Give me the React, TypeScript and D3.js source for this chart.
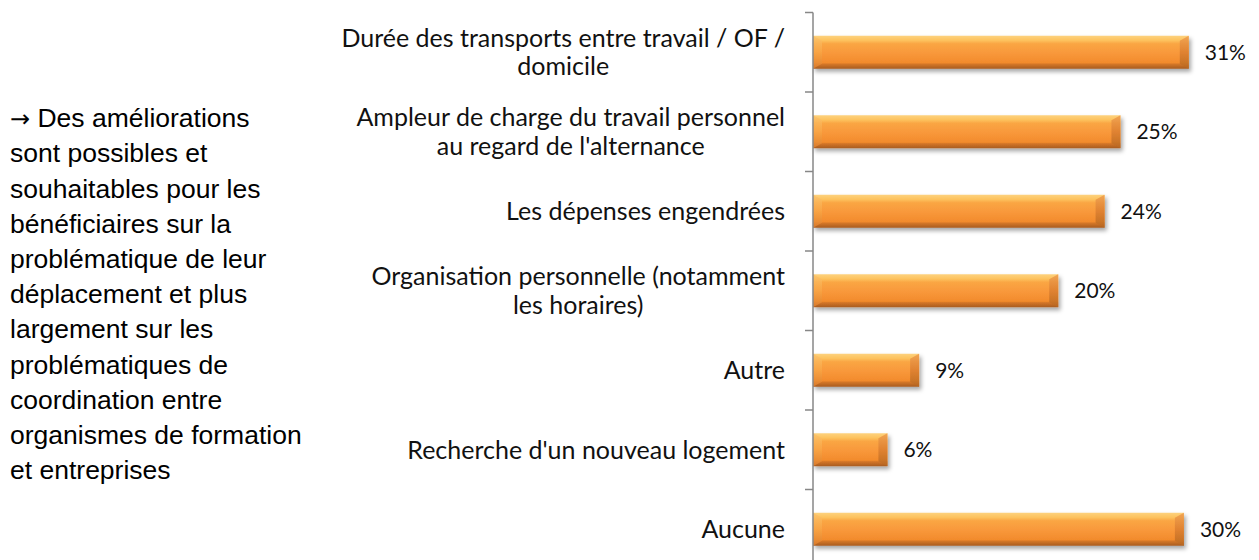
import React, { useEffect, useRef } from "react";
import * as d3 from "d3";

const categoryLines: string[][] = [
  ["Durée des transports entre travail / OF /", "domicile"],
  ["Ampleur de charge du travail personnel", "au regard de l'alternance"],
  ["Les dépenses engendrées"],
  ["Organisation personnelle (notamment", "les horaires)"],
  ["Autre"],
  ["Recherche d'un nouveau logement"],
  ["Aucune"],
];
const values: number[] = [0.308, 0.252, 0.239, 0.201, 0.087, 0.061, 0.304];
const noteArrow = "\u2192";
const noteLines: string[] = [
  " Des améliorations",
  "sont possibles et",
  "souhaitables pour les",
  "bénéficiaires sur la",
  "problématique de leur",
  "déplacement et plus",
  "largement sur les",
  "problématiques de",
  "coordination entre",
  "organismes de formation",
  "et entreprises",
];

const W = 1259;
const H = 560;

export default function App() {
  const ref = useRef<SVGSVGElement>(null);
  useEffect(() => {
    const svg = d3.select(ref.current);
    svg.selectAll("*").remove();
    const idx = categoryLines.map((_, i) => String(i));

    const axisX = 813;
    const x = d3.scaleLinear().domain([0, 0.35]).range([axisX, axisX + 0.35 * 1220]);
    const y = d3
      .scaleBand<string>()
      .domain(idx)
      .range([12.5, 569])
      .paddingInner(0.585)
      .paddingOuter(0.2925);
    const step = y.step();

    const defs = svg.append("defs");
    const g1 = defs
      .append("linearGradient")
      .attr("id", "barGrad")
      .attr("x1", 0)
      .attr("y1", 0)
      .attr("x2", 0)
      .attr("y2", 1);
    [
      [0, "#FDD27E"],
      [0.14, "#FDC25E"],
      [0.24, "#FAA644"],
      [0.55, "#F8973A"],
      [0.82, "#F28B2C"],
      [0.86, "#D47628"],
      [1, "#A85C20"],
    ].forEach(([o, c]) => g1.append("stop").attr("offset", o as number).attr("stop-color", c as string));
    const gl = defs.append("linearGradient").attr("id", "leftGrad").attr("x1", 0).attr("y1", 0).attr("x2", 0).attr("y2", 1);
    [
      [0, "#FCC36A"],
      [0.5, "#F8A545"],
      [1, "#E07F2C"],
    ].forEach(([o, c]) => gl.append("stop").attr("offset", o as number).attr("stop-color", c as string));
    const gr = defs.append("linearGradient").attr("id", "rightGrad").attr("x1", 0).attr("y1", 0).attr("x2", 0).attr("y2", 1);
    [
      [0, "#F0A050"],
      [0.5, "#DD8030"],
      [1, "#B86822"],
    ].forEach(([o, c]) => gr.append("stop").attr("offset", o as number).attr("stop-color", c as string));
    const f = defs.append("filter").attr("id", "shadow").attr("x", "-10%").attr("y", "-30%").attr("width", "130%").attr("height", "180%");
    f.append("feDropShadow")
      .attr("dx", 2)
      .attr("dy", 3)
      .attr("stdDeviation", 2)
      .attr("flood-color", "#000")
      .attr("flood-opacity", 0.35);

    // bars
    const bw = 9;
    const bt = 5;
    const bars = svg.append("g");
    values.forEach((v, i) => {
      const x0 = x(0);
      const x1 = x(v);
      const y0 = y(String(i))!;
      const h = y.bandwidth();
      const y1 = y0 + h;
      const gb = bars.append("g").attr("filter", "url(#shadow)");
      gb.append("rect").attr("x", x0).attr("y", y0).attr("width", x1 - x0).attr("height", h).attr("fill", "url(#barGrad)");
      gb.append("polygon")
        .attr("points", [[x0, y0], [x0 + bw, y0 + bt], [x0 + bw, y1 - bt], [x0, y1]].map((p) => p.join(",")).join(" "))
        .attr("fill", "url(#leftGrad)")
        .attr("opacity", 0.85);
      gb.append("polygon")
        .attr("points", [[x1, y0], [x1 - bw, y0 + bt], [x1 - bw, y1 - bt], [x1, y1]].map((p) => p.join(",")).join(" "))
        .attr("fill", "url(#rightGrad)")
        .attr("opacity", 0.9);
    });

    // axis
    const axisG = svg.append("g").attr("stroke", "#878787").attr("stroke-width", 1.5);
    axisG.append("line").attr("x1", axisX).attr("x2", axisX).attr("y1", 12.5).attr("y2", 569);
    d3.range(idx.length + 1).forEach((k) => {
      const ty = 12.5 + k * step;
      axisG.append("line").attr("x1", axisX - 8).attr("x2", axisX).attr("y1", ty).attr("y2", ty);
    });

    // category labels
    const catG = svg.append("g").attr("font-family", "Lato, sans-serif").attr("font-size", 25).attr("fill", "#111");
    const lineH = 28.5;
    categoryLines.forEach((lines, i) => {
      const cy = y(String(i))! + y.bandwidth() / 2;
      const texts = lines.map((l, j) =>
        catG
          .append("text")
          .attr("y", cy + (j - (lines.length - 1) / 2) * lineH)
          .attr("dy", "0.35em")
          .attr("text-anchor", "middle")
          .text(l)
      );
      const maxW = Math.max(...texts.map((t) => (t.node() as SVGTextElement).getComputedTextLength()));
      texts.forEach((t) => t.attr("x", 785 - maxW / 2));
    });

    // value labels
    const fmt = d3.format(".0%");
    const valG = svg.append("g").attr("font-family", "Lato, sans-serif").attr("font-size", 21).attr("fill", "#111");
    values.forEach((v, i) => {
      valG
        .append("text")
        .attr("x", x(v) + 16)
        .attr("y", y(String(i))! + y.bandwidth() / 2)
        .attr("dy", "0.35em")
        .text(fmt(v));
    });

    // note text
    const noteG = svg
      .append("g")
      .attr("font-family", "'Liberation Sans', Arial, sans-serif")
      .attr("font-size", 26.5)
      .attr("fill", "#000");
    noteLines.forEach((l, i) => {
      const t = noteG
        .append("text")
        .attr("x", 10)
        .attr("y", 118 + i * 35.2)
        .attr("dy", "0.35em");
      if (i === 0) {
        t.append("tspan").attr("font-family", "'DejaVu Sans', sans-serif").attr("font-size", 24).text(noteArrow);
      }
      t.append("tspan").text(l);
    });
  }, []);
  return (
    <svg
      ref={ref}
      width={W}
      height={H}
      style={{ position: "absolute", left: 0, top: 0, background: "#fff" }}
    />
  );
}
